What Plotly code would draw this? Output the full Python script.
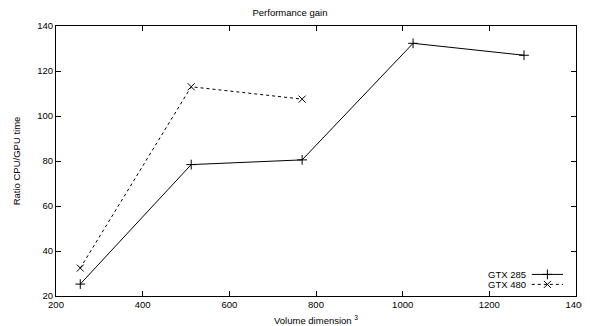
import plotly.graph_objects as go

dims = [256, 512, 768, 1024, 1280]
gtx285 = [25.3, 78.4, 80.5, 132.3, 127.0]
dims480 = [256, 512, 768]
gtx480 = [32.4, 113.0, 107.5]
series_names = ["GTX 285", "GTX 480"]

x_ticks = [200, 400, 600, 800, 1000, 1200, 1400]
y_ticks = [20, 40, 60, 80, 100, 120, 140]

FONT = "Liberation Sans, Arial, sans-serif"
styles = [
    dict(dash="solid", symbol="cross-thin", size=7),
    dict(dash="3px,3px", symbol="x-thin", size=7),
]

fig = go.Figure()
for name, xs, ys, st in zip(series_names, [dims, dims480], [gtx285, gtx480], styles):
    fig.add_trace(go.Scatter(
        x=xs, y=ys, name=name, mode="lines+markers", showlegend=False,
        line=dict(color="black", width=1, dash=st["dash"]),
        marker=dict(symbol=st["symbol"], size=st["size"], line=dict(color="black", width=1), color="black"),
    ))

# gnuplot-style key (text, then sample) on an invisible overlay axis
key_x0, key_x1 = 0.915, 0.975
key_rows = [0.080, 0.043]
for name, ky, st in zip(series_names, key_rows, styles):
    fig.add_trace(go.Scatter(
        x=[key_x0, (key_x0 + key_x1) / 2, key_x1], y=[ky, ky, ky],
        xaxis="x2", yaxis="y2", mode="lines", showlegend=False, hoverinfo="skip",
        line=dict(color="black", width=1, dash=st["dash"]),
    ))
    fig.add_trace(go.Scatter(
        x=[(key_x0 + key_x1) / 2], y=[ky],
        xaxis="x2", yaxis="y2", mode="markers", showlegend=False, hoverinfo="skip",
        marker=dict(symbol=st["symbol"], size=st["size"], line=dict(color="black", width=1), color="black"),
    ))
    fig.add_annotation(x=key_x0 - 0.008, y=ky, xref="x2", yref="y2", text=name, showarrow=False,
                       xanchor="right", yanchor="middle", height=10,
                       font=dict(size=9.5, family=FONT, color="black"))

axis_common = dict(
    showgrid=False, zeroline=False, showline=True, linecolor="black", linewidth=1,
    mirror="ticks", ticks="inside", ticklen=5, tickcolor="black", tickwidth=1,
    tickfont=dict(size=9.5, color="black", family=FONT), ticklabeloverflow="allow",
    automargin=False,
)
fig.update_xaxes(range=[200, 1400], tickvals=x_ticks, ticktext=[str(v) for v in x_ticks],
                 title=dict(text="Volume dimension <sup>3</sup>", font=dict(size=9.5, family=FONT, color="black"), standoff=7),
                 **axis_common)
fig.update_yaxes(range=[20, 140], tickvals=y_ticks, ticktext=[str(v) for v in y_ticks],
                 title=dict(text="Ratio CPU/GPU time", font=dict(size=9.5, family=FONT, color="black"), standoff=14),
                 **axis_common)

# the page body adds an 8px offset, so the figure is sized to fit the 590x326 window
fig.update_layout(
    width=582, height=318,
    margin=dict(l=48, r=14, t=18, b=30),
    paper_bgcolor="white", plot_bgcolor="white",
    font=dict(family=FONT, size=9.5, color="black"),
    title=dict(text="Performance gain", x=(290 - 8) / 582, xanchor="center", y=0.995, yanchor="top",
               font=dict(size=9.5, family=FONT, color="black")),
    showlegend=False,
    xaxis2=dict(range=[0, 1], overlaying="x", visible=False, fixedrange=True, automargin=False),
    yaxis2=dict(range=[0, 1], overlaying="y", visible=False, fixedrange=True, automargin=False),
)

fig.write_html("out.html")
